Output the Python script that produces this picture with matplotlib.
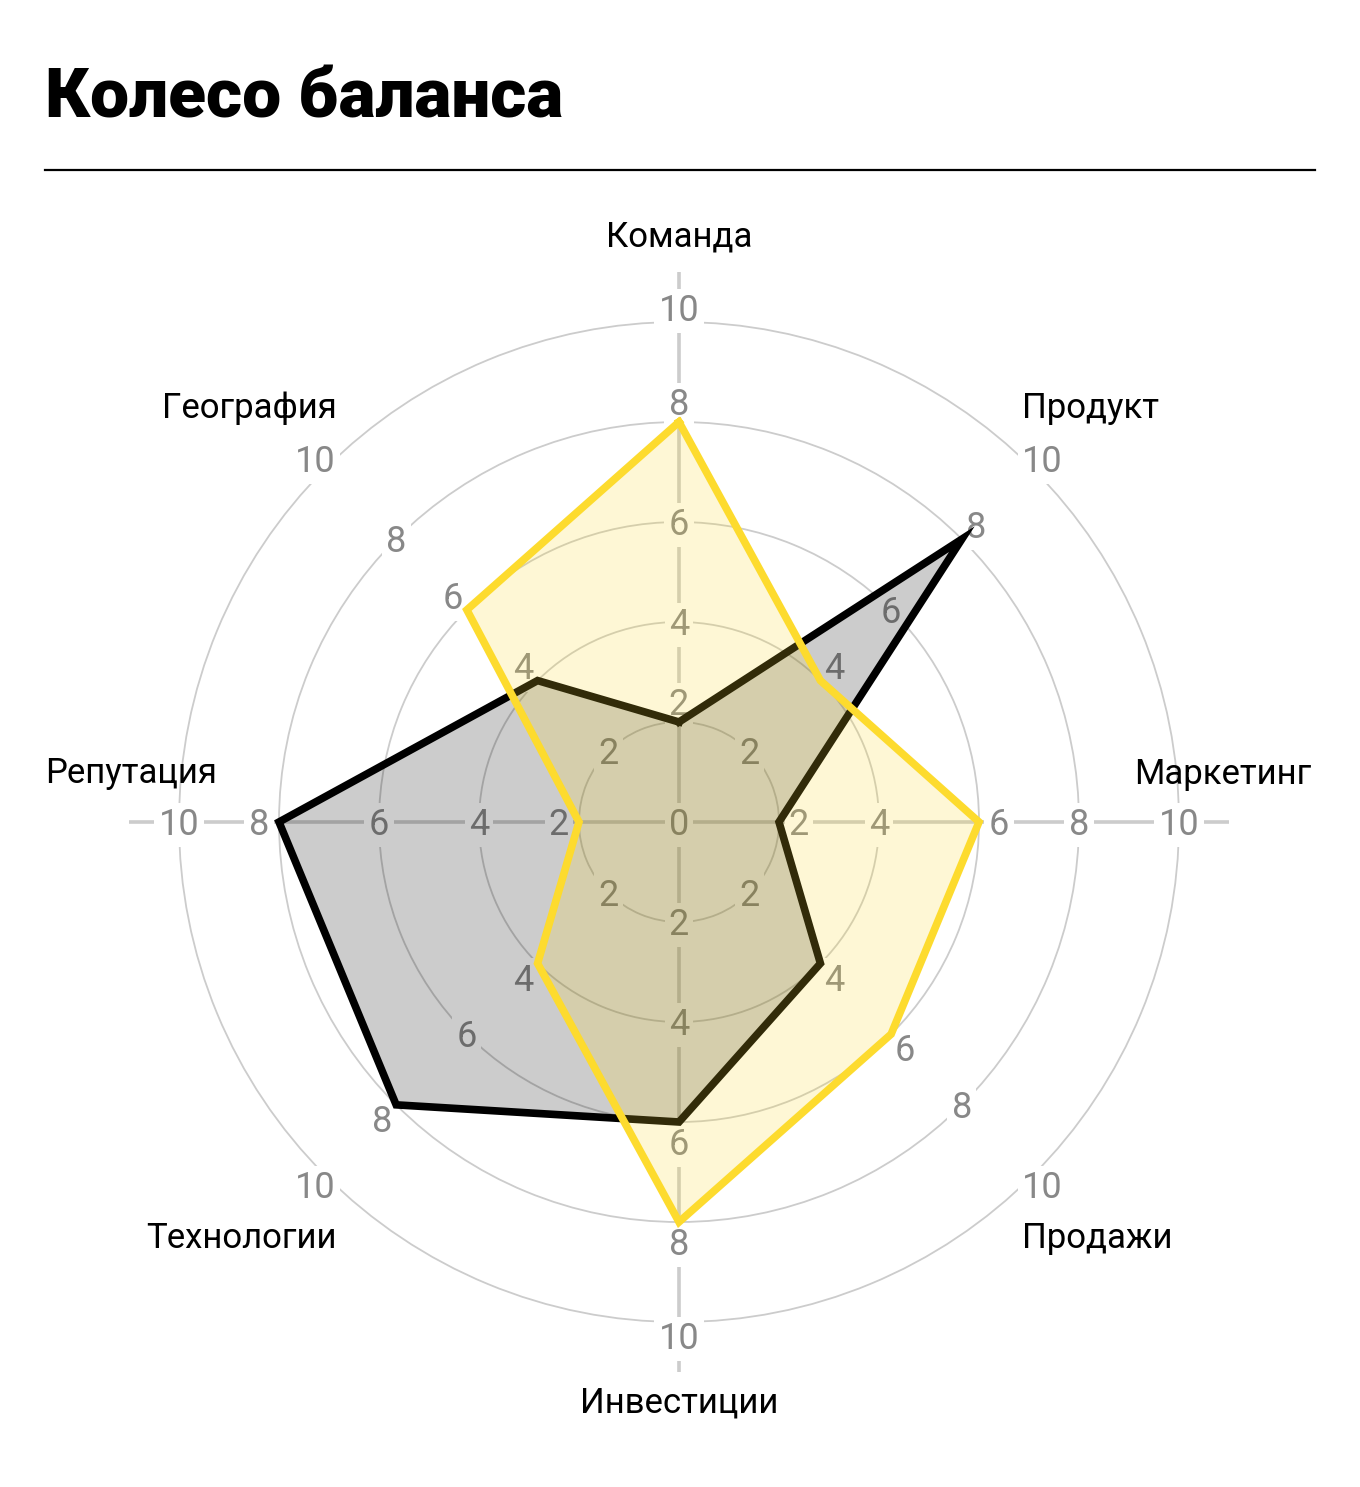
import numpy as np
import matplotlib
matplotlib.use("Agg")
import matplotlib.pyplot as plt

# Data
categories = ["Команда", "Продукт", "Маркетинг", "Продажи",
              "Инвестиции", "Технологии", "Репутация", "География"]
yellow_values = [8, 4, 6, 6, 8, 4, 2, 6]
black_values = [2, 8, 2, 4, 6, 8, 8, 4]
ring_ticks = [2, 4, 6, 8, 10]

# Style
YELLOW = "#FDDB2E"
BLACK = "#000000"
GRID = "#CCCCCC"
TICK = "#888888"
FONT = ["Roboto", "DejaVu Sans"]

plt.rcParams["font.family"] = FONT

W, H = 1360, 1487
fig = plt.figure(figsize=(W / 100, H / 100), dpi=100)
fig.patch.set_facecolor("white")

# Title + rule
fig.text(45 / W, 1 - 117 / H, "Колесо баланса", fontsize=50, fontweight="black",
         ha="left", va="baseline", color="black")
fig.add_artist(plt.Line2D([45 / W, 1315 / W], [1 - 170 / H, 1 - 170 / H],
                          color="black", lw=1.6))

# Polar axes: center (679, 822), 50 px per unit, r max 11
cx, cy, rpx = 679, 822, 550
ax = fig.add_axes([(cx - rpx) / W, 1 - (cy + rpx) / H, 2 * rpx / W, 2 * rpx / H],
                  projection="polar")
ax.set_theta_zero_location("N")
ax.set_theta_direction(-1)
ax.set_ylim(0, 11)
ax.set_xticks([])
ax.set_yticks(ring_ticks)
ax.set_yticklabels([])
ax.yaxis.grid(True, color=GRID, lw=1.3)
ax.set_axisbelow(True)
ax.spines["polar"].set_visible(False)
ax.set_facecolor("none")

n = len(categories)
angles = [i * 2 * np.pi / n for i in range(n)]

# Cross spokes (vertical and horizontal axes only)
for i in range(0, n, 2):
    ax.plot([angles[i], angles[i]], [0, 11], color=GRID, lw=2.6, zorder=1,
            solid_capstyle="butt")

# Tick labels on every spoke, pushed outwards where a vertex sits on them
for i in range(n):
    horizontal = i in (2, 6)
    for v in ring_ticks:
        r = v
        if v in (yellow_values[i], black_values[i]):
            r = v + 0.4
        elif v == 10 and not horizontal:
            r = v + 0.28
        ax.annotate(str(v), xy=(angles[i], r), xytext=(0, -13),
                    textcoords="offset pixels", ha="center", va="baseline",
                    fontsize=26, color=TICK, zorder=2,
                    bbox=dict(boxstyle="square,pad=0.12", fc="white", ec="none"))
ax.annotate("0", xy=(0, 0), xytext=(0, -13), textcoords="offset pixels",
            ha="center", va="baseline", fontsize=26, color=TICK, zorder=2,
            bbox=dict(boxstyle="square,pad=0.12", fc="white", ec="none"))

# Category labels, anchored on ring 10
label_offsets = [(0, 75, "center"), (-11, 50, "left"), (132, 38, "right"),
                 (-11, -72, "left"), (0, -91, "center"), (11, -72, "right"),
                 (-134, 39, "left"), (11, 50, "right")]
for i, name in enumerate(categories):
    dx, dy, ha = label_offsets[i]
    ax.annotate(name, xy=(angles[i], 10), xytext=(dx, dy),
                textcoords="offset pixels", ha=ha, va="baseline",
                fontsize=25, color="black", annotation_clip=False)

# Series
theta = angles + angles[:1]
black_closed = black_values + black_values[:1]
yellow_closed = yellow_values + yellow_values[:1]

ax.fill(theta, black_closed, color=BLACK, alpha=0.2, lw=0, zorder=3)
ax.plot(theta, black_closed, color=BLACK, lw=5.5, zorder=4,
        solid_joinstyle="miter")
ax.fill(theta, yellow_closed, color=YELLOW, alpha=0.2, lw=0, zorder=5)
ax.plot(theta, yellow_closed, color=YELLOW, lw=5.5, zorder=6,
        solid_joinstyle="miter")

fig.savefig("out.png", dpi=100, facecolor="white")
